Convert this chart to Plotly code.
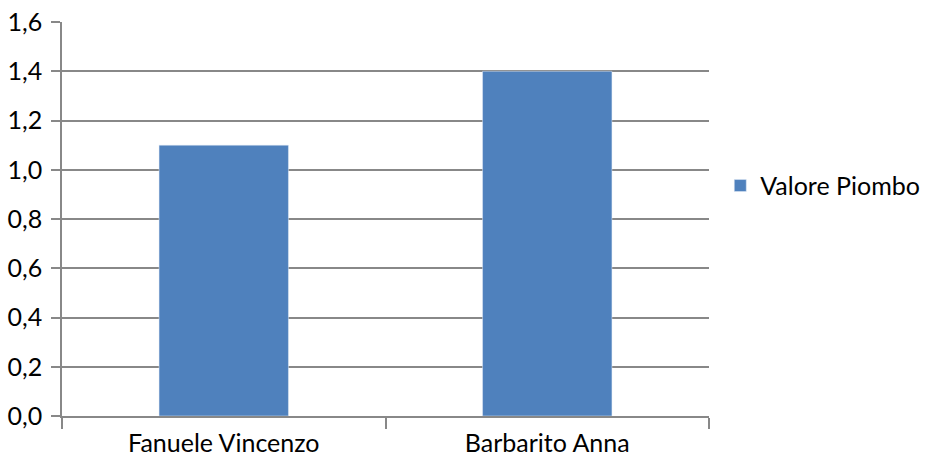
import plotly.graph_objects as go

categories = ["Fanuele Vincenzo", "Barbarito Anna"]
values = [1.1, 1.4]
series_name = "Valore Piombo"
y_ticks = [0.0, 0.2, 0.4, 0.6, 0.8, 1.0, 1.2, 1.4, 1.6]

BAR_COLOR = "#4F81BD"
GRID_COLOR = "#888888"
FONT = "Lato, Carlito, Calibri, sans-serif"

fig = go.Figure()
fig.add_trace(go.Bar(
    x=categories, y=values,
    name=series_name, marker_color=BAR_COLOR,
    showlegend=True,
))

fig.update_layout(
    width=927, height=461,
    paper_bgcolor="white", plot_bgcolor="white",
    font=dict(family=FONT, size=25, color="#000000"),
    separators=",.",
    bargap=0.6,
    margin=dict(l=62, r=218, t=22, b=45),
    legend=dict(xref="container", yref="container",
                x=0.777, y=0.597, xanchor="left", yanchor="middle",
                font=dict(size=25), itemwidth=30),
)
fig.update_xaxes(
    type="category",
    tickson="boundaries",
    ticks="outside", ticklen=11, tickcolor=GRID_COLOR, tickwidth=1.5,
    showline=True, linecolor=GRID_COLOR, linewidth=1.5,
    showgrid=False, automargin=False, ticklabelstandoff=4,
)
fig.update_yaxes(
    range=[0, 1.6001],
    tickvals=y_ticks, tickformat=".1f",
    ticks="outside", ticklen=9, tickcolor=GRID_COLOR, tickwidth=1.5,
    showline=True, linecolor=GRID_COLOR, linewidth=1.5,
    showgrid=True, gridcolor=GRID_COLOR, gridwidth=1.5,
    zeroline=False, automargin=False, ticklabelstandoff=4,
    ticklabeloverflow="allow",
)

# drop the default 8px body margin so the figure fills the window
fig.write_html(
    "out.html",
    config={"displayModeBar": False},
    post_script="document.body.style.margin = '0';",
)
